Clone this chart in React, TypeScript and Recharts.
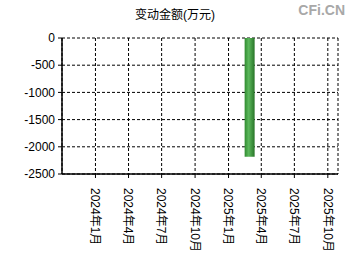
import React from 'react';
import { BarChart, Bar, XAxis, YAxis, CartesianGrid } from 'recharts';

const categories = ['2025-02-28'];
const seriesValues = [-2185];
const yTicks = [0, -500, -1000, -1500, -2000, -2500];
const xTickLabels = ['2024-01-01', '2024-04-01', '2024-07-01', '2024-10-01', '2025-01-01', '2025-04-01', '2025-07-01', '2025-10-01'];
const xDomain = ['2023-10-01', '2025-10-29'];

const ts = (s: string) => {
  const [y, m, d] = s.split('-').map(Number);
  return Date.UTC(y, m - 1, d);
};

const data = categories.map((c, i) => ({ t: ts(c), value: seriesValues[i] }));
const xTicks = xTickLabels.map(ts);

const FONT = 'Arial, "Liberation Sans", "Noto Sans CJK SC", sans-serif';

const XTick = (props: any) => {
  const { x, y, payload } = props;
  const d = new Date(payload.value);
  const label = `${d.getUTCFullYear()}年${d.getUTCMonth() + 1}月`;
  const ty = y + 8;
  return (
    <text
      x={x}
      y={ty}
      dy="0.35em"
      transform={`rotate(90, ${x}, ${ty})`}
      textAnchor="start"
      fontSize={12}
      fontFamily={FONT}
      fill="#000"
    >
      {label}
    </text>
  );
};

export default function App() {
  return (
    <div style={{ position: 'absolute', left: 0, top: 0, width: 350, height: 260, background: '#fff' }}>
      <div
        style={{
          position: 'absolute',
          left: 0,
          width: 350,
          top: 7,
          textAlign: 'center',
          fontSize: 12,
          fontFamily: FONT,
          color: '#000',
          lineHeight: '16px',
        }}
      >
        变动金额(万元)
      </div>
      <div
        style={{
          position: 'absolute',
          right: 5,
          top: 2,
          fontSize: 14,
          fontWeight: 'bold',
          fontFamily: 'Arial, "Liberation Sans", sans-serif',
          color: '#a8a8a8',
          lineHeight: '16px',
        }}
      >
        CFi.CN
      </div>
      <BarChart
        width={350}
        height={260}
        data={data}
        margin={{ top: 38, right: 12, bottom: 0, left: 0 }}
      >
        <defs>
          <linearGradient id="barGrad" x1="0" y1="0" x2="1" y2="0">
            <stop offset="0%" stopColor="#2f8a2f" />
            <stop offset="40%" stopColor="#5cb85c" />
            <stop offset="100%" stopColor="#287528" />
          </linearGradient>
        </defs>
        <CartesianGrid stroke="#000" strokeDasharray="3 2" />
        <XAxis
          dataKey="t"
          type="number"
          domain={[ts(xDomain[0]), ts(xDomain[1])]}
          ticks={xTicks}
          allowDataOverflow
          height={86}
          tick={<XTick />}
          tickSize={4}
          axisLine={{ stroke: '#000', strokeWidth: 1.5 }}
          tickLine={{ stroke: '#000' }}
          interval={0}
        />
        <YAxis
          type="number"
          domain={[-2500, 0]}
          ticks={yTicks}
          width={62}
          interval={0}
          tickSize={4}
          tickMargin={3}
          tick={{ fontSize: 12, fontFamily: FONT, fill: '#000' }}
          axisLine={{ stroke: '#000', strokeWidth: 1.5 }}
          tickLine={{ stroke: '#000' }}
        />
        <Bar dataKey="value" fill="url(#barGrad)" barSize={10} isAnimationActive={false} />
      </BarChart>
    </div>
  );
}
